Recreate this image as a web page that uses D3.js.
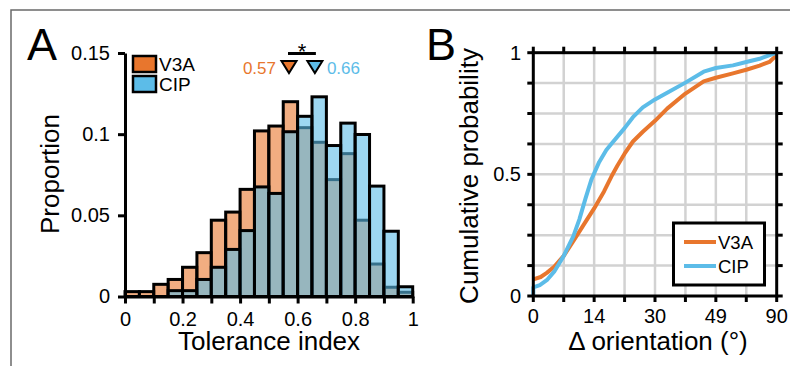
<!DOCTYPE html>
<html>
<head>
<meta charset="utf-8">
<script src="https://cdn.jsdelivr.net/npm/d3@7"></script>
<style>
  body { margin: 0; background: #fff; }
  svg { display: block; font-family: "Liberation Sans", Arial, sans-serif; }
</style>
</head>
<body>
<svg id="chart" width="790" height="366"></svg>
<script>
// panel A: histogram of tolerance index (20 bins of 0.05)
const binEdges = d3.range(0, 1.0001, 0.05).map(d => +d.toFixed(2));
const v3aHist = [0.003, 0.003, 0.0075, 0.0105, 0.018, 0.027, 0.047, 0.052, 0.066, 0.102,
                 0.105, 0.12, 0.104, 0.095, 0.072, 0.088, 0.047, 0.02, 0.0057, 0.0026];
const cipHist = [0, 0, 0, 0.0036, 0.0036, 0.0105, 0.018, 0.029, 0.0406, 0.0675,
                 0.0635, 0.1015, 0.111, 0.123, 0.093, 0.1068, 0.0998, 0.068, 0.0402, 0.006];
const medians = [{ name: 'V3A', value: 0.57 }, { name: 'CIP', value: 0.66 }];
const histYTicks = [0, 0.05, 0.1, 0.15];
const histXTicks = d3.range(0, 1.0001, 0.1).map(d => +d.toFixed(1));
const histXLabels = [0, 0.2, 0.4, 0.6, 0.8, 1];

// panel B: cumulative distributions of delta orientation (deg)
const v3aDeg = [0, 1.7, 3.1, 4.8, 7, 9.2, 11.5, 14, 16.6, 18.5, 20.1, 22, 24.2, 26.8,
                30, 33.8, 39.5, 45.2, 49, 60.5, 69.5, 78.5, 85.1, 90];
const v3aCum = [0.068, 0.078, 0.095, 0.12, 0.165, 0.225, 0.29, 0.36, 0.43, 0.49, 0.535, 0.585, 0.635, 0.675,
                0.72, 0.77, 0.832, 0.882, 0.897, 0.915, 0.93, 0.947, 0.962, 0.99];
const cipDeg = [0, 0, 1.5, 3.1, 4.8, 7, 9.2, 10.6, 12, 13.4, 15.3, 17.2, 18.5, 22, 24.2, 26.8,
                30, 33.8, 39.5, 45.2, 49, 60.5, 69.5, 78.5, 90];
const cipCum = [0, 0.035, 0.045, 0.065, 0.1, 0.165, 0.245, 0.315, 0.4, 0.48, 0.55, 0.6, 0.625, 0.69, 0.735, 0.775,
                0.808, 0.835, 0.877, 0.922, 0.937, 0.948, 0.962, 0.975, 1.0];
const orientLabels = [0, 14, 30, 49, 90];
const cumYTicks = d3.range(0, 1.0001, 0.125);
const cumYLabels = [0, 0.5, 1];

const orange = '#E8762D';
const blue = '#5CBCE8';
const svg = d3.select('#chart');

// outer frame
svg.append('path')
  .attr('d', 'M11,366V10H790')
  .attr('fill', 'none')
  .attr('stroke', '#6a6a6a')
  .attr('stroke-width', 1.5);

// ---------------- panel A ----------------
const xA = d3.scaleLinear().domain([0, 1]).range([125, 412.7]);
const yA = d3.scaleLinear().domain([0, 0.15]).range([296.5, 53]);
const gA = svg.append('g');

function drawHist(values, color) {
  gA.append('g')
    .selectAll('rect')
    .data(values)
    .enter().append('rect')
    .attr('x', (d, i) => xA(binEdges[i]))
    .attr('width', (d, i) => xA(binEdges[i + 1]) - xA(binEdges[i]))
    .attr('y', d => yA(d))
    .attr('height', d => yA(0) - yA(d))
    .attr('fill', color)
    .attr('fill-opacity', 0.6)
    .attr('stroke', '#000')
    .attr('stroke-width', 3);
}
drawHist(v3aHist, orange);
drawHist(cipHist, blue);

const axA = gA.append('g')
  .attr('transform', 'translate(0,' + yA(0) + ')')
  .call(d3.axisBottom(xA).tickValues(histXTicks).tickSize(7).tickSizeOuter(0).tickPadding(8)
    .tickFormat(d3.format('~g')));
axA.selectAll('.tick text')
  .filter(d => !histXLabels.some(v => Math.abs(v - d) < 1e-9))
  .remove();
const ayA = gA.append('g')
  .attr('transform', 'translate(' + xA(0) + ',0)')
  .call(d3.axisLeft(yA).tickValues(histYTicks).tickSize(7).tickSizeOuter(0).tickPadding(8)
    .tickFormat(d3.format('~g')));
[axA, ayA].forEach(ax => {
  ax.select('.domain').attr('stroke-width', 3);
  ax.selectAll('.tick line').attr('stroke-width', 3);
  ax.selectAll('.tick text').attr('font-size', 20).attr('fill', '#000');
});

gA.append('text')
  .attr('x', 269).attr('y', 350)
  .attr('text-anchor', 'middle')
  .attr('font-size', 26)
  .text('Tolerance index');
gA.append('text')
  .attr('transform', 'translate(58.5,174) rotate(-90)')
  .attr('text-anchor', 'middle')
  .attr('font-size', 26)
  .text('Proportion');
svg.append('text')
  .attr('x', 27).attr('y', 60)
  .attr('font-size', 45)
  .text('A');

// legend A
const legA = gA.append('g')
  .selectAll('g')
  .data([{ name: 'V3A', color: orange }, { name: 'CIP', color: blue }])
  .enter().append('g')
  .attr('transform', (d, i) => 'translate(133,' + (56 + i * 20) + ')');
legA.append('rect')
  .attr('width', 23).attr('height', 16)
  .attr('fill', d => d.color)
  .attr('stroke', '#000')
  .attr('stroke-width', 2.5);
legA.append('text')
  .attr('x', 26).attr('y', 15)
  .attr('font-size', 19)
  .text(d => d.name);

// median markers
const medColor = { V3A: orange, CIP: blue };
const mk = gA.append('g')
  .selectAll('g')
  .data(medians)
  .enter().append('g')
  .attr('transform', d => 'translate(' + xA(d.value) + ',0)');
mk.append('path')
  .attr('d', 'M-7.5,61L7.5,61L0,73Z')
  .attr('fill', d => medColor[d.name])
  .attr('stroke', '#000')
  .attr('stroke-width', 2)
  .attr('stroke-linejoin', 'miter');
mk.append('text')
  .attr('x', (d, i) => i === 0 ? -13 : 12)
  .attr('y', 74)
  .attr('text-anchor', (d, i) => i === 0 ? 'end' : 'start')
  .attr('font-size', 17)
  .attr('fill', d => medColor[d.name])
  .text(d => d3.format('.2f')(d.value));

gA.append('line')
  .attr('x1', xA(medians[0].value) - 1).attr('x2', xA(medians[1].value) + 1)
  .attr('y1', 53.5).attr('y2', 53.5)
  .attr('stroke', '#000')
  .attr('stroke-width', 3);
gA.append('text')
  .attr('x', (xA(medians[0].value) + xA(medians[1].value)) / 2)
  .attr('y', 59)
  .attr('text-anchor', 'middle')
  .attr('font-size', 22)
  .text('*');

// ---------------- panel B ----------------
const x0 = 533.3, x1 = 776.7;
const q = d3.scaleLinear().domain([0, 1]).range([x0, x1]);
const xB = d3.scaleLinear().domain(orientLabels).range(orientLabels.map((d, i) => q(i / 4)));
const yB = d3.scaleLinear().domain([0, 1]).range([296, 52.7]);
const gB = svg.append('g');
const gridFrac = d3.range(0, 1.0001, 0.125);

// grid
gB.append('g')
  .selectAll('line')
  .data(gridFrac.slice(1, -1))
  .enter().append('line')
  .attr('x1', d => q(d)).attr('x2', d => q(d))
  .attr('y1', yB(0)).attr('y2', yB(1))
  .attr('stroke', '#d2d2d2')
  .attr('stroke-width', 2.5);
gB.append('g')
  .selectAll('line')
  .data(cumYTicks.slice(1, -1))
  .enter().append('line')
  .attr('x1', x0).attr('x2', x1)
  .attr('y1', d => yB(d)).attr('y2', d => yB(d))
  .attr('stroke', '#d2d2d2')
  .attr('stroke-width', 2.5);

// curves
const line = d3.line().x(d => xB(d[0])).y(d => yB(d[1]));
[[d3.zip(v3aDeg, v3aCum), orange], [d3.zip(cipDeg, cipCum), blue]].forEach(([pts, c]) => {
  gB.append('path')
    .datum(pts)
    .attr('d', line)
    .attr('fill', 'none')
    .attr('stroke', c)
    .attr('stroke-width', 4)
    .attr('stroke-linejoin', 'round');
});

// frame with outward ticks on all sides
gB.append('rect')
  .attr('x', x0).attr('y', yB(1))
  .attr('width', x1 - x0).attr('height', yB(0) - yB(1))
  .attr('fill', 'none')
  .attr('stroke', '#000')
  .attr('stroke-width', 3);
const tk = gB.append('g').attr('stroke', '#000').attr('stroke-width', 3);
gridFrac.forEach(f => {
  tk.append('line').attr('x1', q(f)).attr('x2', q(f)).attr('y1', yB(0)).attr('y2', yB(0) + 6);
  tk.append('line').attr('x1', q(f)).attr('x2', q(f)).attr('y1', yB(1)).attr('y2', yB(1) - 6);
});
cumYTicks.forEach(v => {
  tk.append('line').attr('y1', yB(v)).attr('y2', yB(v)).attr('x1', x0).attr('x2', x0 - 6);
  tk.append('line').attr('y1', yB(v)).attr('y2', yB(v)).attr('x1', x1).attr('x2', x1 + 6);
});

gB.append('g')
  .selectAll('text')
  .data(orientLabels)
  .enter().append('text')
  .attr('x', d => xB(d))
  .attr('y', 323)
  .attr('text-anchor', 'middle')
  .attr('font-size', 20)
  .text(d => d);
gB.append('g')
  .selectAll('text')
  .data(cumYLabels)
  .enter().append('text')
  .attr('x', 521)
  .attr('y', d => yB(d))
  .attr('dy', '0.35em')
  .attr('text-anchor', 'end')
  .attr('font-size', 20)
  .text(d => d);

gB.append('text')
  .attr('x', 658).attr('y', 350)
  .attr('text-anchor', 'middle')
  .attr('font-size', 26)
  .text('\u0394 orientation (\u00b0)');
gB.append('text')
  .attr('transform', 'translate(478,176) rotate(-90)')
  .attr('text-anchor', 'middle')
  .attr('font-size', 26)
  .text('Cumulative probability');
svg.append('text')
  .attr('x', 426).attr('y', 60)
  .attr('font-size', 45)
  .text('B');

// legend B
gB.append('rect')
  .attr('x', 673.5).attr('y', 223)
  .attr('width', 91).attr('height', 62)
  .attr('fill', '#fff')
  .attr('stroke', '#000')
  .attr('stroke-width', 3);
const legB = gB.append('g')
  .selectAll('g')
  .data([{ name: 'V3A', color: orange }, { name: 'CIP', color: blue }])
  .enter().append('g')
  .attr('transform', (d, i) => 'translate(684,' + (242 + i * 24) + ')');
legB.append('line')
  .attr('x1', 0).attr('x2', 32)
  .attr('stroke', d => d.color)
  .attr('stroke-width', 4);
legB.append('text')
  .attr('x', 34).attr('y', 6.5)
  .attr('font-size', 18.5)
  .text(d => d.name);
</script>
</body>
</html>
